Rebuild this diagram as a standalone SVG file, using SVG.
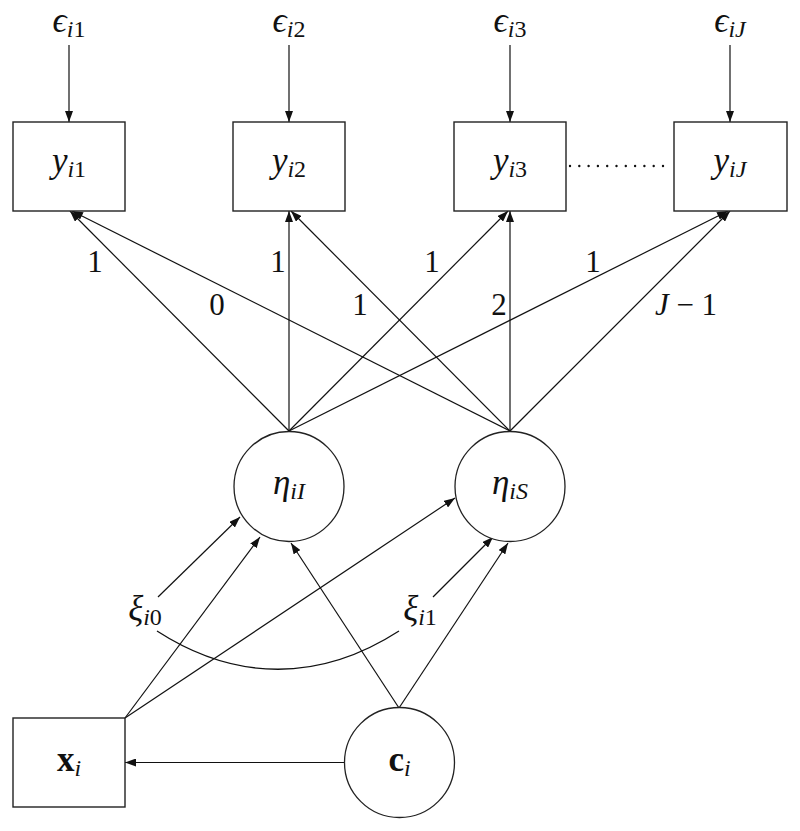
<svg xmlns="http://www.w3.org/2000/svg" width="800" height="831" viewBox="0 0 800 831">
<style>
.box{fill:#fff;stroke:#222;stroke-width:1.4}
.cir{fill:#fff;stroke:#222;stroke-width:1.3}
.e{fill:none;stroke:#111;stroke-width:1.2;marker-end:url(#ah)}
.p{fill:none;stroke:#111;stroke-width:1.3}
</style>
<defs>
<marker id="ah" markerUnits="userSpaceOnUse" markerWidth="11" markerHeight="8" refX="11" refY="4" orient="auto">
<path d="M0,0 L11,4 L0,8 z" fill="#111"/>
</marker>
</defs>
<g id="connectors">
<line class="e" x1="69" y1="45" x2="69" y2="122"/>
<line class="e" x1="289" y1="45" x2="289" y2="122"/>
<line class="e" x1="510" y1="45" x2="510" y2="122"/>
<line class="e" x1="730" y1="45" x2="730" y2="122"/>
<line class="e" x1="289" y1="431" x2="70" y2="211"/>
<line class="e" x1="289" y1="431" x2="289" y2="211"/>
<line class="e" x1="289" y1="431" x2="508" y2="211"/>
<line class="e" x1="289" y1="431" x2="728" y2="211"/>
<line class="e" x1="510" y1="431" x2="72" y2="211"/>
<line class="e" x1="510" y1="431" x2="291" y2="211"/>
<line class="e" x1="510" y1="431" x2="510" y2="211"/>
<line class="e" x1="510" y1="431" x2="730" y2="211"/>
<line x1="570" y1="166" x2="672" y2="166" stroke="#111" stroke-width="2.4" stroke-linecap="round" stroke-dasharray="0 9.3"/>
<line class="e" x1="125" y1="718" x2="260" y2="537"/>
<line class="e" x1="125" y1="718" x2="455" y2="498"/>
<line class="e" x1="399" y1="708" x2="291" y2="543"/>
<line class="e" x1="399" y1="708" x2="508" y2="543"/>
<line class="e" x1="345" y1="762.5" x2="125" y2="762.5"/>
<line class="e" x1="158" y1="597" x2="240" y2="517"/>
<line class="e" x1="433" y1="597" x2="493" y2="537"/>
<path class="p" d="M157,631 C236,682 320,682 399,631"/>
</g>
<g font-family="'Liberation Serif', 'DejaVu Serif', serif" fill="#111" text-anchor="middle">
<g id="eps1"><text x="69" y="32" font-size="35" font-style="italic">ϵ<tspan font-size="24" dy="5">i</tspan><tspan font-size="24" font-style="normal">1</tspan></text></g>
<g id="eps2"><text x="289" y="32" font-size="35" font-style="italic">ϵ<tspan font-size="24" dy="5">i</tspan><tspan font-size="24" font-style="normal">2</tspan></text></g>
<g id="eps3"><text x="510" y="32" font-size="35" font-style="italic">ϵ<tspan font-size="24" dy="5">i</tspan><tspan font-size="24" font-style="normal">3</tspan></text></g>
<g id="epsJ"><text x="730" y="32" font-size="35" font-style="italic">ϵ<tspan font-size="24" dy="5">iJ</tspan></text></g>
<g id="y1"><rect class="box" x="13" y="122" width="112" height="89"/><text x="69" y="172" font-size="35" font-style="italic">y<tspan font-size="24" dy="5">i</tspan><tspan font-size="24" font-style="normal">1</tspan></text></g>
<g id="y2"><rect class="box" x="233" y="122" width="112" height="89"/><text x="289" y="172" font-size="35" font-style="italic">y<tspan font-size="24" dy="5">i</tspan><tspan font-size="24" font-style="normal">2</tspan></text></g>
<g id="y3"><rect class="box" x="454" y="122" width="112" height="89"/><text x="510" y="172" font-size="35" font-style="italic">y<tspan font-size="24" dy="5">i</tspan><tspan font-size="24" font-style="normal">3</tspan></text></g>
<g id="yJ"><rect class="box" x="674" y="122" width="113" height="89"/><text x="730" y="172" font-size="35" font-style="italic">y<tspan font-size="24" dy="5">iJ</tspan></text></g>
<g id="labels" font-size="31">
<text x="95" y="272">1</text>
<text x="217" y="315">0</text>
<text x="278" y="272">1</text>
<text x="360" y="315">1</text>
<text x="432" y="272">1</text>
<text x="499" y="315">2</text>
<text x="593" y="272">1</text>
<text x="686" y="315"><tspan font-style="italic">J</tspan> − 1</text>
</g>
<g id="etaI"><circle class="cir" cx="289" cy="486.5" r="55"/><text x="289" y="494" font-size="35" font-style="italic">η<tspan font-size="24" dy="5">iI</tspan></text></g>
<g id="etaS"><circle class="cir" cx="510" cy="486.5" r="55"/><text x="510" y="494" font-size="35" font-style="italic">η<tspan font-size="24" dy="5">iS</tspan></text></g>
<g id="xi0"><text x="145" y="620" font-size="35" font-style="italic">ξ<tspan font-size="24" dy="5">i</tspan><tspan font-size="24" font-style="normal">0</tspan></text></g>
<g id="xi1"><text x="420" y="620" font-size="35" font-style="italic">ξ<tspan font-size="24" dy="5">i</tspan><tspan font-size="24" font-style="normal">1</tspan></text></g>
<g id="x"><rect class="box" x="13" y="718" width="112" height="89"/><text x="69" y="771" font-size="35"><tspan font-weight="bold">x</tspan><tspan font-size="24" font-style="italic" dy="5">i</tspan></text></g>
<g id="c"><circle class="cir" cx="399.5" cy="762.5" r="55"/><text x="399.5" y="771" font-size="35"><tspan font-weight="bold">c</tspan><tspan font-size="24" font-style="italic" dy="5">i</tspan></text></g>
</g>
</svg>
